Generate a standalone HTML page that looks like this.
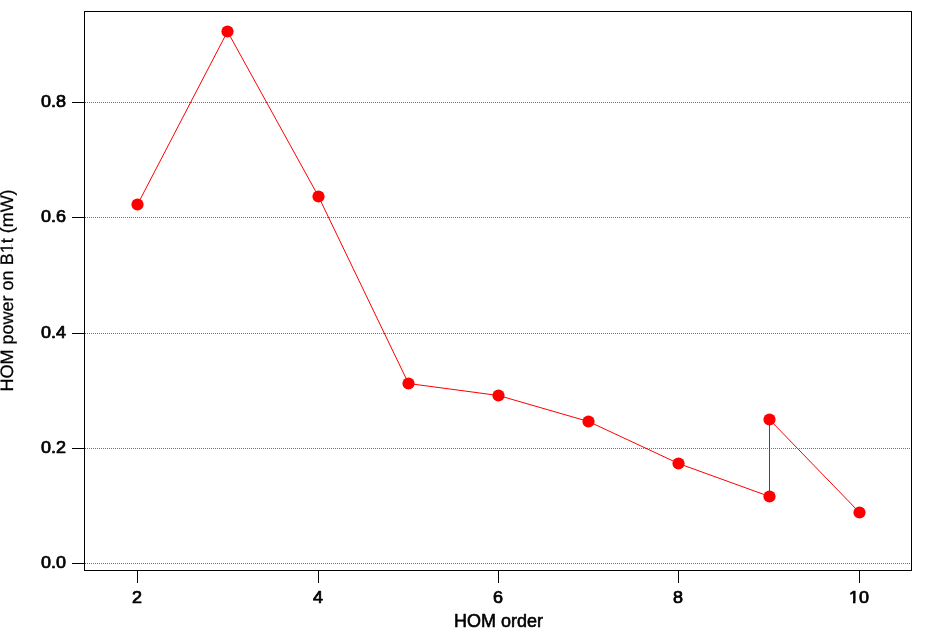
<!DOCTYPE html>
<html lang="en">
<head>
<meta charset="utf-8">
<title>HOM power on B1t</title>
<style>
html,body{margin:0;padding:0;background:#fff;overflow:hidden}
svg{display:block}
text{font-family:"Liberation Sans",sans-serif;fill:#000}
.tk{font-size:18px;stroke:#000;stroke-width:0.8px;stroke-linejoin:round}
.ax{font-size:18px;stroke:#000;stroke-width:0.6px;stroke-linejoin:round}
.ay{font-size:18px;text-rendering:geometricPrecision;stroke:#000;stroke-width:0.25px}
</style>
</head>
<body>
<svg width="951" height="632" viewBox="0 0 951 632">
<rect x="0" y="0" width="951" height="632" fill="#fff"/>
<defs>
<clipPath id="c10" clipPathUnits="userSpaceOnUse"><path clip-rule="evenodd" d="M-20 -20H20V8H-20 Z M-9.90 -1.82H-5.88V3.00H-9.90Z M-3.49 -1.82H0.10V3.00H-3.49Z"/></clipPath>
<clipPath id="cy" clipPathUnits="userSpaceOnUse"><path clip-rule="evenodd" d="M-110 -20H110V8H-110 Z M37.90 -1.90H41.42V1.10H37.90Z M43.27 -1.90H46.40V1.10H43.27Z"/></clipPath>
</defs>
<g stroke="#6060ff" stroke-width="1" stroke-dasharray="1 1" shape-rendering="crispEdges">
<line x1="85" y1="563.5" x2="911" y2="563.5"/>
<line x1="85" y1="448.5" x2="911" y2="448.5"/>
<line x1="85" y1="333.5" x2="911" y2="333.5"/>
<line x1="85" y1="217.5" x2="911" y2="217.5"/>
<line x1="85" y1="102.5" x2="911" y2="102.5"/>
</g>
<polyline fill="none" stroke="#ff0000" stroke-width="1" points="137.5,204.5 227.5,31.5 318.5,196.5 408.5,383.5 498.5,395.5 588.5,421.5 678.5,463.5 769.5,496.5 769.5,419.5 859.5,512.5"/>
<g fill="#ff0000">
<circle cx="137.5" cy="204.5" r="6.1"/>
<circle cx="227.5" cy="31.5" r="6.1"/>
<circle cx="318.5" cy="196.5" r="6.1"/>
<circle cx="408.5" cy="383.5" r="6.1"/>
<circle cx="498.5" cy="395.5" r="6.1"/>
<circle cx="588.5" cy="421.5" r="6.1"/>
<circle cx="678.5" cy="463.5" r="6.1"/>
<circle cx="769.5" cy="496.5" r="6.1"/>
<circle cx="769.5" cy="419.5" r="6.1"/>
<circle cx="859.5" cy="512.5" r="6.1"/>
</g>
<g stroke="#000" stroke-width="1" fill="none" shape-rendering="crispEdges">
<rect x="84.5" y="11.5" width="827" height="559"/>
<line x1="72" y1="563.5" x2="84" y2="563.5"/>
<line x1="72" y1="448.5" x2="84" y2="448.5"/>
<line x1="72" y1="333.5" x2="84" y2="333.5"/>
<line x1="72" y1="217.5" x2="84" y2="217.5"/>
<line x1="72" y1="102.5" x2="84" y2="102.5"/>
<line x1="137.5" y1="571" x2="137.5" y2="583"/>
<line x1="318.5" y1="571" x2="318.5" y2="583"/>
<line x1="498.5" y1="571" x2="498.5" y2="583"/>
<line x1="678.5" y1="571" x2="678.5" y2="583"/>
<line x1="859.5" y1="571" x2="859.5" y2="583"/>
</g>
<g class="tk" text-anchor="end">
<text transform="translate(66 568.1) scale(1 0.935)">0.0</text>
<text transform="translate(66 453.1) scale(1 0.935)">0.2</text>
<text transform="translate(66 338.1) scale(1 0.935)">0.4</text>
<text transform="translate(66 221.8) scale(1 0.935)">0.6</text>
<text transform="translate(66 107.1) scale(1 0.935)">0.8</text>
</g>
<g class="tk" text-anchor="middle">
<text transform="translate(136.9 602.7) scale(1 0.935)">2</text>
<text transform="translate(317.9 602.7) scale(1 0.935)">4</text>
<text transform="translate(497.9 602.7) scale(1 0.935)">6</text>
<text transform="translate(677.9 602.7) scale(1 0.935)">8</text>
<text clip-path="url(#c10)" transform="translate(858.9 602.7) scale(1 0.935)">10</text>
</g>
<text class="ax" text-anchor="middle" transform="translate(498.5 626.9) scale(1 0.97)">HOM order</text>
<text class="ay" clip-path="url(#cy)" text-anchor="middle" transform="translate(13.3 290.4) rotate(-90)">HOM power on B1t (mW)</text>
</svg>
</body>
</html>
